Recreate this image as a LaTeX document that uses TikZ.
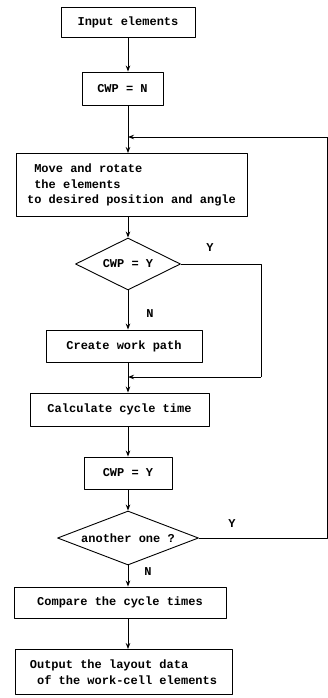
\documentclass[tikz,border=0pt]{standalone}
\usepackage{fontspec}
\setmonofont{Liberation Mono}
\usetikzlibrary{arrows.meta,shapes.geometric}

\begin{document}
\begin{tikzpicture}[x=1pt,y=-1pt,>={Stealth[length=6pt,width=4.5pt]},line join=round,
  every path/.style={line width=0.9pt},
  txt/.style={font=\ttfamily\bfseries\fontsize{12}{15.5}\selectfont},
  box/.style={draw,txt,inner sep=0pt,align=center},
  decision/.style={draw,diamond,txt,inner sep=0pt}]
  \useasboundingbox (0,0) rectangle (328,698);
  \coordinate (col) at (128,0);
  \coordinate (j1) at (128,137);
  \coordinate (j2) at (128,377);
  \coordinate (loopA) at (327,137);
  \coordinate (loopB) at (261,377);
  % boxes
  \node[box,minimum width=134,minimum height=30] (input) at (128,22) {Input elements};
  \node[box,minimum width=81,minimum height=33] (cwpn) at (122.5,88.5) {CWP = N};
  \node[box,minimum width=231,minimum height=63,align=left] (move) at (131.5,185)
    {\ Move and rotate\\\ the elements\\to desired position and angle};
  \node[decision,aspect=2,minimum width=105,minimum height=52] (dec1) at (128,264) {CWP = Y};
  \node[box,minimum width=156,minimum height=32] (create) at (124,346) {Create work path};
  \node[box,minimum width=179,minimum height=33] (calc) at (119.5,409.5) {Calculate cycle time};
  \node[box,minimum width=88,minimum height=32] (cwpy) at (128,473) {CWP = Y};
  \node[decision,aspect=2.6,minimum width=141,minimum height=54] (dec2) at (128,538) {another one ?};
  \node[box,minimum width=212,minimum height=31] (compare) at (120,602.5) {Compare the cycle times};
  \node[box,minimum width=217,minimum height=45,align=left] (output) at (123.5,672)
    {Output the layout data\\\ of the work-cell elements};
  % labels
  \node[txt] (y1) at (210,248) {Y};
  \node[txt] (n1) at (150,314) {N};
  \node[txt] (y2) at (232,524) {Y};
  \node[txt] (n2) at (148,572) {N};
  % connectors
  \draw[->] (input.south) -- (input.south |- cwpn.north);
  \draw (cwpn.south -| col) -- (j1);
  \draw[->] (j1) -- (move.north -| col);
  \draw[->] (move.south -| col) -- (dec1.north);
  \draw[->] (dec1.south) -- (create.north -| col);
  \draw (create.south -| col) -- (j2);
  \draw[->] (j2) -- (calc.north -| col);
  \draw[->] (calc.south -| col) -- (cwpy.north);
  \draw[->] (cwpy.south) -- (dec2.north);
  \draw[->] (dec2.south) -- (compare.north -| col);
  \draw[->] (compare.south -| col) -- (output.north -| col);
  % loops
  \draw (dec1.east) -| (loopB);
  \draw[->] (loopB) -- (j2);
  \draw (dec2.east) -| (loopA);
  \draw[->] (loopA) -- (j1);
\end{tikzpicture}
\end{document}
